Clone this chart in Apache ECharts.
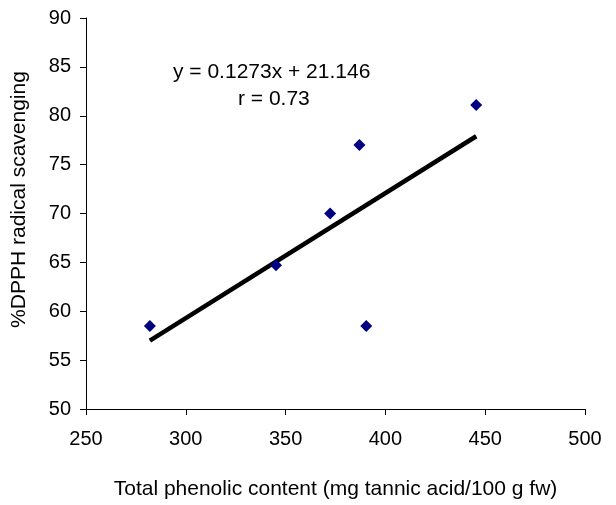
<!DOCTYPE html>
<html>
<head>
	<meta charset="utf-8">
	<title>DPPH vs phenolic</title>
	<script src="https://cdn.jsdelivr.net/npm/echarts@6/dist/echarts.min.js"></script>
	<style type="text/css">
		body{ margin:0; background:#fff; }
		#main{ width:616px; height:505px; }
	</style>
</head>
<body>
	<div id="main"></div>
	<script type="text/javascript">
		// measured points
		var phenolic = [282, 345.2, 372.3, 387, 390.4, 445.5];
		var dpph = [58.5, 64.7, 70.0, 77.0, 58.5, 81.1];
		// trend line ends
		var trendX = [282, 445.5];
		var trendY = [57.0, 77.9];
		var xTicks = [250, 300, 350, 400, 450, 500];
		var yTicks = [50, 55, 60, 65, 70, 75, 80, 85, 90];

		var pts = [];
		for(var i = 0; i < phenolic.length; i++){
			pts.push([phenolic[i], dpph[i]]);
		}
		var trend = [];
		for(var j = 0; j < trendX.length; j++){
			trend.push([trendX[j], trendY[j]]);
		}

		var font = 'Liberation Sans, Arial, sans-serif';
		var myChart = echarts.init(document.getElementById('main'));
		var option = {
			animation:false,
			textStyle:{ fontFamily:font },
			grid:{ left:86, right:31, top:18, bottom:93 },
			xAxis:{
				type:'value',
				min:xTicks[0],
				max:xTicks[xTicks.length-1],
				interval:50,
				name:'Total phenolic content (mg tannic acid/100 g fw)',
				nameLocation:'middle',
				nameGap:70,
				nameTextStyle:{ color:'#000', fontSize:21, fontFamily:font },
				axisLine:{ lineStyle:{ color:'#000', width:1 } },
				axisTick:{ show:true, length:6, lineStyle:{ color:'#000' } },
				axisLabel:{ color:'#000', fontSize:20, margin:20, fontFamily:font },
				splitLine:{ show:false }
			},
			yAxis:{
				type:'value',
				min:yTicks[0],
				max:yTicks[yTicks.length-1],
				interval:5,
				name:'%DPPH radical scavenging',
				nameLocation:'middle',
				nameGap:56,
				nameRotate:90,
				nameTextStyle:{ color:'#000', fontSize:21, fontFamily:font, padding:[0,0,0,28] },
				axisLine:{ show:true, lineStyle:{ color:'#000', width:1 } },
				axisTick:{ show:true, length:6, lineStyle:{ color:'#000' } },
				axisLabel:{ color:'#000', fontSize:20, margin:15, fontFamily:font },
				splitLine:{ show:false }
			},
			graphic:[
				{ type:'text', left:173, top:62, style:{ text:'y = 0.1273x + 21.146', fill:'#000', font:'21px Liberation Sans' } },
				{ type:'text', left:238, top:89, style:{ text:'r = 0.73', fill:'#000', font:'21px Liberation Sans' } }
			],
			series:[
				{
					type:'line',
					data:trend,
					symbol:'none',
					lineStyle:{ color:'#000', width:4.5 },
					z:2
				},
				{
					type:'scatter',
					data:pts,
					symbol:'diamond',
					symbolSize:12,
					itemStyle:{ color:'#000080', opacity:1 },
					z:3
				}
			]
		};
		myChart.setOption(option);
	</script>
</body>
</html>
